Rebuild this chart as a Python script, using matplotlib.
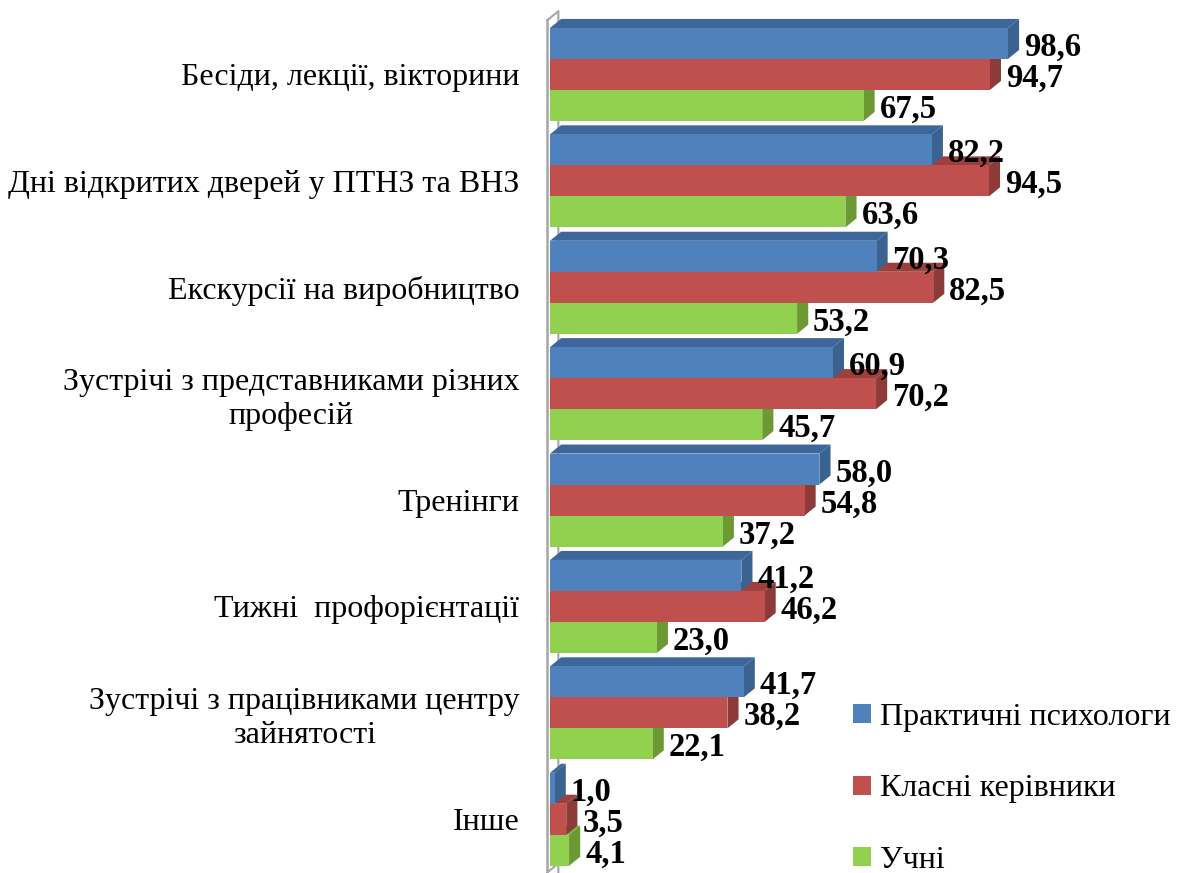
import matplotlib.pyplot as plt
from matplotlib.patches import Polygon
from matplotlib.patches import Patch

plt.rcParams['font.family'] = ['Liberation Serif', 'DejaVu Serif']

categories = ['Бесіди, лекції, вікторини',
              'Дні відкритих дверей у ПТНЗ та ВНЗ',
              'Екскурсії на виробництво',
              'Зустрічі з представниками різних\nпрофесій',
              'Тренінги',
              'Тижні  профорієнтації',
              'Зустрічі з працівниками центру\nзайнятості',
              'Інше']
psychologists = [98.6, 82.2, 70.3, 60.9, 58.0, 41.2, 41.7, 1.0]
teachers = [94.7, 94.5, 82.5, 70.2, 54.8, 46.2, 38.2, 3.5]
students = [67.5, 63.6, 53.2, 45.7, 37.2, 23.0, 22.1, 4.1]
series_names = ['Практичні психологи', 'Класні керівники', 'Учні']

front = ['#4F81BD', '#C0504D', '#92D050']
side = ['#3A6391', '#8E3A38', '#6B9A35']
top = ['#3D679A', '#9C403D', '#78AD3C']

fig = plt.figure(figsize=(11.77, 8.73), dpi=100)
ax = fig.add_axes([550 / 1177, 0, 627 / 1177, 1])
ax.set_xlim(0, 135)
ax.set_ylim(7.505, -0.70)

h = 0.2914          # bar thickness in group units
dx = 2.4            # 3d depth, x units
dy = 0.085          # 3d depth, y units
offsets = [-h, 0, h]
series = [psychologists, teachers, students]

# wall
wx = -0.6
ax.plot([wx, wx + dx, wx + dx], [-0.51, -0.51 - dy, 7.6], color='#A6A6A6',
        lw=1.5, zorder=0, clip_on=False)
ax.plot([wx, wx], [-0.51, 7.6], color='#A6A6A6', lw=1.8, zorder=10, clip_on=False)
ax.plot([wx, wx + dx], [7.5, 7.5 - dy], color='#A6A6A6', lw=1.5, zorder=1, clip_on=False)

# draw green, red, blue so the upper bars hide the tops of the lower ones
for s in [2, 1, 0]:
    vals = series[s]
    for i, v in enumerate(vals):
        c = i + offsets[s]
        y0, y1 = c - h / 2, c + h / 2
        ax.add_patch(Polygon([(0, y0), (dx, y0 - dy), (v + dx, y0 - dy), (v, y0)],
                             closed=True, facecolor=top[s], edgecolor='none', zorder=2))
        ax.add_patch(Polygon([(v, y0), (v + dx, y0 - dy), (v + dx, y1 - dy), (v, y1)],
                             closed=True, facecolor=side[s], edgecolor='none', zorder=2))
        ax.barh(c, v, height=h, color=front[s], zorder=2, edgecolor='none')
    for i, v in enumerate(vals):
        c = i + offsets[s]
        ax.text(v + 3.45, c + 0.035, f'{v:.1f}'.replace('.', ','), fontsize=23.5,
                fontweight='bold', va='center', ha='left', zorder=20, clip_on=False)

ax.set_yticks(range(len(categories)))
ax.set_yticklabels(categories, fontsize=23)
for t in ax.get_yticklabels():
    t.set_multialignment('center')
ax.tick_params(axis='y', length=0, pad=22)
ax.set_xticks([])
for sp in ax.spines.values():
    sp.set_visible(False)
ax.patch.set_alpha(0)

handles = [Patch(facecolor=front[k], edgecolor='none') for k in range(3)]
fig.legend(handles, series_names, loc='upper left', bbox_to_anchor=(853 / 1177, 1 - 703 / 873),
           frameon=False, fontsize=23, handlelength=0.55, handleheight=0.55,
           handletextpad=0.3, labelspacing=1.33, borderpad=0, borderaxespad=0)

fig.savefig('out.png', dpi=100)
